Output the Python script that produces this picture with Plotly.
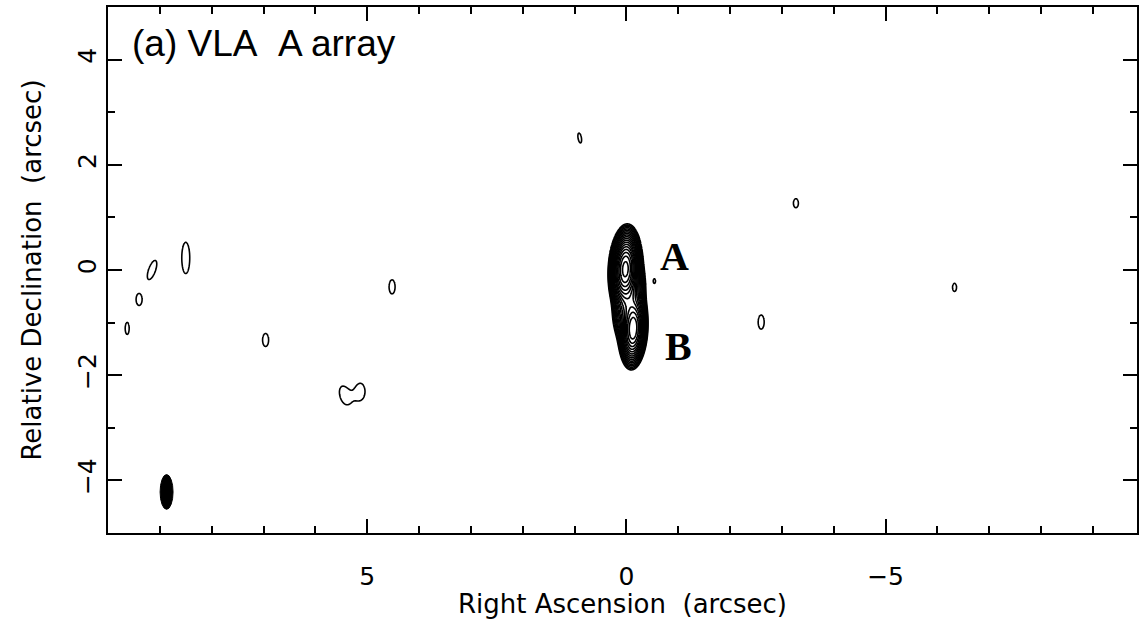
import numpy as np
import plotly.graph_objects as go

# ---------------------------------------------------------------
# Source model: elliptical Gaussian components.
# Offsets in arcsec (RA, Dec), peak in units of the lowest contour,
# sigmas in arcsec, position angle in degrees (east of north).
# Components sharing a group are contoured together.
# ---------------------------------------------------------------
comp_group = ["AB", "AB", "AB", "AB",
              "w1", "w2", "w3", "w4", "w5", "w6",
              "s1", "s1", "n1", "e1", "e2", "e3"]
comp_ra = [0.02, -0.13, -0.05, -0.54,
           8.50, 9.15, 9.40, 9.63, 6.96, 4.52,
           5.44, 5.13, 0.90, -3.27, -2.60, -6.33]
comp_dec = [0.02, -1.12, -0.55, -0.21,
            0.23, 0.00, -0.56, -1.11, -1.33, -0.32,
            -2.38, -2.31, 2.51, 1.27, -0.99, -0.33]
comp_peak = [600.0, 250.0, 60.0, 1.3,
             1.3, 1.3, 1.3, 1.3, 1.3, 1.3,
             1.3, 1.3, 1.3, 1.3, 1.3, 1.3]
comp_sig_ra = [0.093, 0.086, 0.110, 0.030,
               0.106, 0.092, 0.080, 0.053, 0.080, 0.080,
               0.120, 0.120, 0.045, 0.066, 0.080, 0.053]
comp_sig_dec = [0.240, 0.235, 0.300, 0.060,
                0.410, 0.265, 0.157, 0.157, 0.170, 0.184,
                0.235, 0.210, 0.130, 0.118, 0.184, 0.105]
comp_pa = [-3.0, -3.0, -5.0, 0.0,
           0.0, -20.0, 0.0, 0.0, 0.0, 0.0,
           15.0, 0.0, 10.0, 0.0, 0.0, 0.0]

# Contour levels: lowest level = 1, spaced by factors of sqrt(2)
level_step_log2 = 0.5

# Restoring beam (FWHM ellipse), drawn filled in the corner
beam_ra, beam_dec = 8.87, -4.22
beam_major, beam_minor = 0.66, 0.25

# Axis ranges and ticks
ra_range = [10.0, -9.85]
dec_range = [-5.0, 5.0]
ra_ticks = [5, 0, -5]
dec_ticks = [-4, -2, 0, 2, 4]

title_text = "(a) VLA\u00a0\u00a0A array"
comp_labels = ["A", "B"]
label_ra = [-0.92, -1.0]
label_dec = [0.25, -1.45]


def group_image(idx, step=0.005):
    ra = np.array([comp_ra[i] for i in idx])
    dec = np.array([comp_dec[i] for i in idx])
    pk = np.array([comp_peak[i] for i in idx])
    sx = np.array([comp_sig_ra[i] for i in idx])
    sy = np.array([comp_sig_dec[i] for i in idx])
    pa = np.radians([comp_pa[i] for i in idx])
    ext = 4.5 * max(sx.max(), sy.max())
    xs = np.arange(ra.min() - ext, ra.max() + ext, step)
    ys = np.arange(dec.min() - ext, dec.max() + ext, step)
    X, Y = np.meshgrid(xs, ys)
    img = np.zeros_like(X)
    for r, d, p, a, b, t in zip(ra, dec, pk, sx, sy, pa):
        dx, dy = X - r, Y - d
        v = dx * np.sin(t) + dy * np.cos(t)   # along major axis
        u = dx * np.cos(t) - dy * np.sin(t)   # along minor axis
        img += p * np.exp(-0.5 * (u / a) ** 2 - 0.5 * (v / b) ** 2)
    z = np.log2(np.maximum(img, 2.0 ** -4))
    return xs, ys, z, np.log2(pk.max())


fig = go.Figure()

groups = []
for g in comp_group:
    if g not in groups:
        groups.append(g)

for g in groups:
    idx = [i for i, gg in enumerate(comp_group) if gg == g]
    xs, ys, z, zmax = group_image(idx)
    fig.add_trace(go.Contour(
        x=xs, y=ys, z=z,
        autocontour=False,
        contours=dict(start=0.0, end=max(zmax, 0.01), size=level_step_log2,
                      coloring="lines"),
        colorscale=[[0, "black"], [1, "black"]],
        line=dict(width=1.6, smoothing=1.0),
        showscale=False,
        hoverinfo="skip",
    ))

# restoring beam
fig.add_shape(type="circle", xref="x", yref="y",
              x0=beam_ra + beam_minor / 2, x1=beam_ra - beam_minor / 2,
              y0=beam_dec - beam_major / 2, y1=beam_dec + beam_major / 2,
              fillcolor="black", line=dict(color="black", width=1))

tick_font = dict(family="DejaVu Sans, Liberation Sans, sans-serif", size=25, color="black")
title_font = dict(family="DejaVu Sans, Liberation Sans, sans-serif", size=26, color="black")

fig.add_annotation(x=9.58, y=4.3, xref="x", yref="y", text=title_text,
                   showarrow=False, xanchor="left", yanchor="middle",
                   font=dict(family="Liberation Sans Narrow, Liberation Sans, Arial",
                             size=37, color="black"))
for t, xr, yd in zip(comp_labels, label_ra, label_dec):
    fig.add_annotation(x=xr, y=yd, xref="x", yref="y", text="<b>%s</b>" % t,
                       showarrow=False, xanchor="center", yanchor="middle",
                       font=dict(family="Liberation Serif, Times New Roman, serif",
                                 size=40, color="black"))

common = dict(showline=True, linecolor="black", linewidth=2, mirror="ticks",
              ticks="inside", ticklen=14, tickwidth=1.5, tickcolor="black",
              showgrid=False, zeroline=False, tickfont=tick_font,
              minor=dict(ticks="inside", ticklen=7, tickwidth=1.5,
                         tickcolor="black", dtick=1, showgrid=False))

fig.update_xaxes(range=ra_range, tickvals=ra_ticks, ticklabelstandoff=20,
                 title=dict(text="Right Ascension\u00a0\u00a0(arcsec)",
                            font=title_font, standoff=0),
                 **common)
fig.update_yaxes(range=dec_range, tickvals=dec_ticks, tickangle=-90,
                 title=dict(text="Relative Declination\u00a0\u00a0(arcsec)",
                            font=title_font, standoff=24),
                 **common)

fig.update_layout(width=1140, height=619,
                  margin=dict(l=108, r=1, t=7, b=86),
                  paper_bgcolor="white", plot_bgcolor="white",
                  showlegend=False)

fig.write_html("out.html")
